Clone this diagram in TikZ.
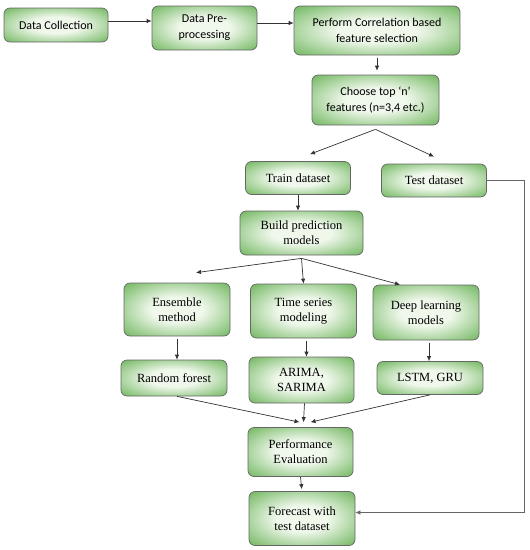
\documentclass[tikz,border=0pt]{standalone}
\usepackage{fontspec}
\setmainfont{Liberation Serif}
\newfontfamily\calfont{Carlito}
\usepackage{tikz}
\usetikzlibrary{arrows.meta,positioning,calc}
\definecolor{boxedge}{RGB}{88,170,68}
\definecolor{boxmid}{RGB}{240,248,236}
\pgfdeclareradialshading{glow}{\pgfpoint{0bp}{0bp}}{color(0bp)=(boxmid); color(12bp)=(boxmid); color(40bp)=(boxedge); color(50bp)=(boxedge)}

\begin{document}
\begin{tikzpicture}[x=1pt, y=-1pt,
        block/.style={rectangle, rounded corners=6pt, draw=black!60, line width=0.7pt, shading=glow, align=center, inner sep=2pt},
        sblock/.style={block, font=\calfont\fontsize{12}{16}\selectfont},
        tblock/.style={block, font=\rmfamily\fontsize{12.5}{15}\selectfont},
        arrow/.style={-{Latex[length=5pt,width=4.5pt]}, line width=0.7pt, draw=black!80},
        feed/.style={-{Latex[length=5pt,width=4.5pt]}, line width=0.7pt, draw=black!60}
    ]
        \useasboundingbox (0,0) rectangle (530,550);

        % Blocks
        \node[sblock, minimum width=104pt, minimum height=34pt] (coll) at (56,25) {Data Collection};
        \node[sblock, minimum width=105pt, minimum height=44pt] (prep) at (204.5,28) {Data Pre-\\processing};
        \node[sblock, minimum width=166pt, minimum height=49pt] (corr) at (377,30.5) {Perform Correlation based\\feature selection};
        \node[sblock, minimum width=127pt, minimum height=50pt] (choose) at (375.5,100) {Choose top ‘n’\\features (n=3,4 etc.)};
        \node[tblock, minimum width=105pt, minimum height=33pt] (train) at (298,178) {Train dataset};
        \node[tblock, minimum width=105pt, minimum height=33pt] (test) at (434,180.5) {Test dataset};
        \node[tblock, minimum width=123pt, minimum height=44pt] (build) at (301.5,233) {Build prediction\\models};
        \node[tblock, minimum width=106pt, minimum height=53pt] (ens) at (177,309.5) {Ensemble\\method};
        \node[tblock, minimum width=106pt, minimum height=54pt] (tsm) at (303.5,311) {Time series\\modeling};
        \node[tblock, minimum width=106pt, minimum height=55pt] (deep) at (426,312.5) {Deep learning\\models};
        \node[tblock, minimum width=106pt, minimum height=36pt] (rf) at (174,378) {Random forest};
        \node[tblock, minimum width=105pt, minimum height=46pt] (arima) at (301.5,380) {ARIMA,\\SARIMA};
        \node[tblock, minimum width=106pt, minimum height=33pt] (lstm) at (430,378) {LSTM, GRU};
        \node[tblock, minimum width=105pt, minimum height=49pt] (perf) at (300.5,452) {Performance\\Evaluation};
        \node[tblock, minimum width=106pt, minimum height=54pt] (fcast) at (302,518.5) {Forecast with\\test dataset};

        % Split points
        \coordinate (csplit) at ([yshift=-4pt]choose.south);
        \coordinate (bsplit) at ([yshift=-3pt]build.south);

        % Arrows
        \draw[arrow] ([yshift=4pt]coll.east) -- ([yshift=4pt]coll.east -| prep.west);
        \draw[arrow] ([yshift=5pt]prep.east) -- ([yshift=5pt]prep.east -| corr.west);
        \draw[arrow, shorten <=3pt, shorten >=4pt] (corr.south) -- (corr.south |- choose.north);
        \draw[arrow] (csplit) -- ([xshift=12pt,yshift=7pt]train.north);
        \draw[arrow] (csplit) -- ([yshift=7pt]test.north);
        \draw[arrow] (train.south) -- (train.south |- build.north);
        \draw[arrow] (bsplit) -- ([xshift=19pt,yshift=10pt]ens.north);
        \draw[arrow] (bsplit) -- (tsm.north);
        \draw[arrow] (bsplit) -- ([xshift=-26pt]deep.north);
        \draw[arrow, shorten <=3pt] (ens.south) -- (ens.south |- rf.north);
        \draw[arrow, shorten <=3pt] ([xshift=3pt]tsm.south) -- ([xshift=3pt]tsm.south |- arima.north);
        \draw[arrow, shorten <=3pt] ([xshift=3pt]deep.south) -- ([xshift=3pt]deep.south |- lstm.north);
        \draw[arrow] ([xshift=3pt]rf.south) -- ([xshift=-1pt,yshift=5pt]perf.north);
        \draw[arrow] ([xshift=3pt]arima.south) -- ([xshift=3pt,yshift=5pt]perf.north);
        \draw[arrow] (lstm.south) -- ([xshift=10pt,yshift=5pt]perf.north);
        \draw[arrow, shorten >=2pt] (perf.south) -- (fcast.north);
        \draw[feed] (test.east) -- ++(37,0) |- ([yshift=6pt]fcast.east);
    \end{tikzpicture}
\end{document}
